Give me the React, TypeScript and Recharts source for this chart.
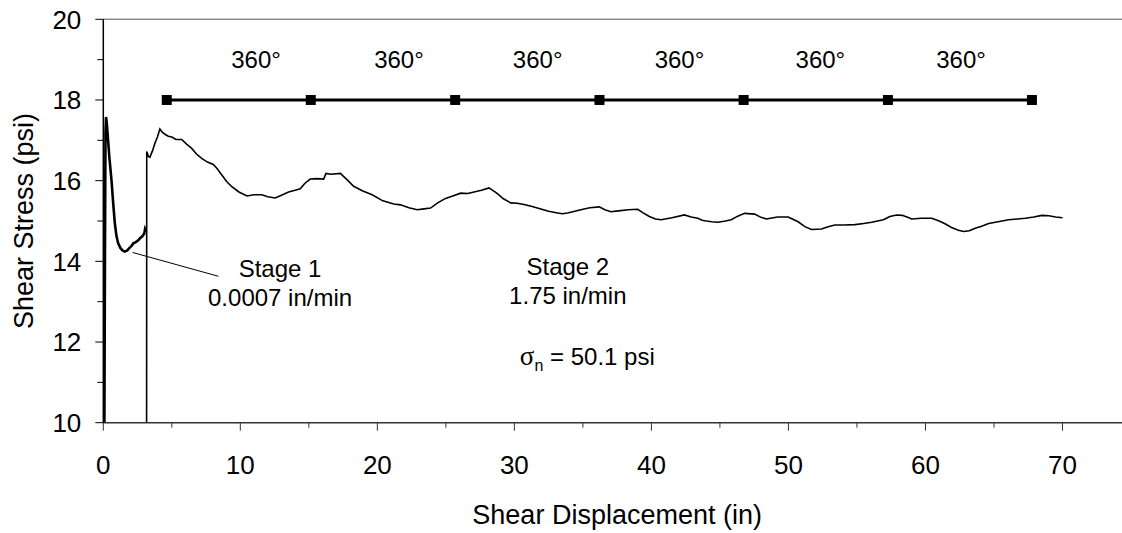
import React from "react"
import { LineChart, Line, XAxis, YAxis, ReferenceLine, ReferenceDot } from "recharts"

// stage 1: slow creep-rate shear
const STAGE1 = [
  { x: 0.08, y: 10 }, { x: 0.12, y: 14.0 }, { x: 0.16, y: 17.2 }, { x: 0.2, y: 17.58 },
  { x: 0.26, y: 17.4 }, { x: 0.35, y: 17.0 }, { x: 0.45, y: 16.55 }, { x: 0.6, y: 16.0 },
  { x: 0.72, y: 15.45 }, { x: 0.84, y: 14.95 }, { x: 0.95, y: 14.65 }, { x: 1.08, y: 14.45 },
  { x: 1.25, y: 14.33 }, { x: 1.4, y: 14.27 }, { x: 1.57, y: 14.24 }, { x: 1.75, y: 14.27 },
  { x: 1.9, y: 14.33 }, { x: 2.06, y: 14.38 }, { x: 2.2, y: 14.45 }, { x: 2.35, y: 14.47 },
  { x: 2.55, y: 14.52 }, { x: 2.7, y: 14.58 }, { x: 2.85, y: 14.62 }, { x: 2.99, y: 14.69 },
  { x: 3.05, y: 14.8 }, { x: 3.1, y: 14.76 },
]

// stage 2: fast ring shear
const STAGE2 = [
  { x: 3.16, y: 10 }, { x: 3.17, y: 16.72 }, { x: 3.3, y: 16.6 }, { x: 3.4, y: 16.58 },
  { x: 3.6, y: 16.75 }, { x: 3.77, y: 16.93 }, { x: 3.95, y: 17.08 }, { x: 4.13, y: 17.28 },
  { x: 4.3, y: 17.2 }, { x: 4.5, y: 17.15 }, { x: 4.74, y: 17.1 }, { x: 5.0, y: 17.08 },
  { x: 5.3, y: 17.02 }, { x: 5.72, y: 17.02 }, { x: 6.1, y: 16.9 }, { x: 6.45, y: 16.8 },
  { x: 6.8, y: 16.66 }, { x: 7.18, y: 16.55 }, { x: 7.6, y: 16.46 }, { x: 8.03, y: 16.4 },
  { x: 8.3, y: 16.3 }, { x: 8.65, y: 16.14 }, { x: 9.0, y: 15.98 }, { x: 9.38, y: 15.85 },
  { x: 9.9, y: 15.72 }, { x: 10.48, y: 15.62 }, { x: 11.0, y: 15.65 }, { x: 11.57, y: 15.65 },
  { x: 12.0, y: 15.6 }, { x: 12.55, y: 15.57 }, { x: 13.0, y: 15.64 }, { x: 13.52, y: 15.72 },
  { x: 14.0, y: 15.76 }, { x: 14.37, y: 15.8 }, { x: 14.7, y: 15.93 }, { x: 15.1, y: 16.04 },
  { x: 15.6, y: 16.05 }, { x: 16.08, y: 16.04 }, { x: 16.25, y: 16.18 }, { x: 16.6, y: 16.16 },
  { x: 17.3, y: 16.18 }, { x: 17.8, y: 16.02 }, { x: 18.27, y: 15.86 }, { x: 18.9, y: 15.75 },
  { x: 19.62, y: 15.65 }, { x: 20.4, y: 15.5 }, { x: 21.2, y: 15.42 }, { x: 21.69, y: 15.4 },
  { x: 22.3, y: 15.33 }, { x: 22.91, y: 15.28 }, { x: 23.4, y: 15.3 }, { x: 23.88, y: 15.32 },
  { x: 24.4, y: 15.45 }, { x: 24.98, y: 15.56 }, { x: 25.5, y: 15.62 }, { x: 26.08, y: 15.69 },
  { x: 26.6, y: 15.68 }, { x: 27.05, y: 15.72 }, { x: 27.6, y: 15.76 }, { x: 28.15, y: 15.82 },
  { x: 28.5, y: 15.74 }, { x: 28.76, y: 15.68 }, { x: 29.2, y: 15.55 }, { x: 29.74, y: 15.45 },
  { x: 30.2, y: 15.44 }, { x: 30.71, y: 15.41 }, { x: 31.3, y: 15.36 }, { x: 31.93, y: 15.3 },
  { x: 32.5, y: 15.24 }, { x: 33.15, y: 15.2 }, { x: 33.5, y: 15.18 }, { x: 33.88, y: 15.2 },
  { x: 34.4, y: 15.24 }, { x: 34.86, y: 15.28 }, { x: 35.5, y: 15.33 }, { x: 36.2, y: 15.35 },
  { x: 36.6, y: 15.28 }, { x: 37.05, y: 15.23 }, { x: 37.6, y: 15.25 }, { x: 38.3, y: 15.28 },
  { x: 39.0, y: 15.29 }, { x: 39.4, y: 15.2 }, { x: 39.85, y: 15.11 }, { x: 40.3, y: 15.05 },
  { x: 40.71, y: 15.03 }, { x: 41.5, y: 15.08 }, { x: 42.41, y: 15.15 }, { x: 42.9, y: 15.1 },
  { x: 43.39, y: 15.07 }, { x: 43.7, y: 15.02 }, { x: 44.0, y: 15.0 }, { x: 44.4, y: 14.98 },
  { x: 44.86, y: 14.97 }, { x: 45.4, y: 15.0 }, { x: 45.83, y: 15.03 }, { x: 46.3, y: 15.12 },
  { x: 46.8, y: 15.19 }, { x: 47.53, y: 15.17 }, { x: 48.0, y: 15.09 }, { x: 48.39, y: 15.05 },
  { x: 49.2, y: 15.1 }, { x: 49.98, y: 15.1 }, { x: 50.4, y: 15.03 }, { x: 50.71, y: 14.98 },
  { x: 51.2, y: 14.86 }, { x: 51.68, y: 14.79 }, { x: 52.41, y: 14.8 }, { x: 52.9, y: 14.86 },
  { x: 53.39, y: 14.9 }, { x: 54.1, y: 14.9 }, { x: 54.85, y: 14.91 }, { x: 55.5, y: 14.94 },
  { x: 56.07, y: 14.97 }, { x: 56.93, y: 15.03 }, { x: 57.4, y: 15.11 }, { x: 57.9, y: 15.15 },
  { x: 58.3, y: 15.14 }, { x: 58.7, y: 15.09 }, { x: 59.0, y: 15.05 }, { x: 59.7, y: 15.07 },
  { x: 60.46, y: 15.07 }, { x: 61.0, y: 15.0 }, { x: 61.43, y: 14.93 }, { x: 61.9, y: 14.84 },
  { x: 62.4, y: 14.77 }, { x: 62.8, y: 14.74 }, { x: 63.2, y: 14.76 }, { x: 63.63, y: 14.82 },
  { x: 64.1, y: 14.87 }, { x: 64.61, y: 14.94 }, { x: 65.3, y: 14.98 }, { x: 66.07, y: 15.03 },
  { x: 66.7, y: 15.05 }, { x: 67.29, y: 15.07 }, { x: 67.9, y: 15.1 }, { x: 68.51, y: 15.14 },
  { x: 69.0, y: 15.13 }, { x: 69.5, y: 15.1 }, { x: 70.0, y: 15.08 },
]

// one marker per full revolution of the ring
const REVOLUTIONS = [4.63, 15.14, 25.68, 36.21, 46.73, 57.26, 67.77]
const REV_LEVEL = 18
const DEG_LABEL_X = [11.15, 21.58, 31.7, 42.05, 52.33, 62.6]
const DEG_LABEL_Y = 18.79

const X_TICKS = [0, 5, 10, 15, 20, 25, 30, 35, 40, 45, 50, 55, 60, 65, 70]
const Y_TICKS = [10, 11, 12, 13, 14, 15, 16, 17, 18, 19, 20]

const STAGE_NOTES = [
  { x: 12.9, y: 13.61, lines: ["Stage 1", "0.0007 in/min"] },
  { x: 33.9, y: 13.66, lines: ["Stage 2", "1.75 in/min"] },
]
const LEADER = [{ x: 2.14, y: 14.22 }, { x: 8.4, y: 13.63 }]
const SIGMA_NOTE = { x: 30.4, y: 11.43, value: "50.1 psi" }

const FONT = "'Liberation Sans', Arial, sans-serif"
const revData = REVOLUTIONS.map((x) => ({ x, y: REV_LEVEL }))

const XTick = (props: any) => {
  const { x, y, payload } = props
  const major = payload.value % 10 === 0
  return (
    <g>
      <line x1={x} x2={x} y1={y} y2={y + (major ? 8 : 5)} stroke="#333" />
      {major && (
        <text x={x} y={y + 51} textAnchor="middle" fontSize={26} fontFamily={FONT} fill="#000">
          {payload.value}
        </text>
      )}
    </g>
  )
}

const YTick = (props: any) => {
  const { x, y, payload } = props
  const major = payload.value % 2 === 0
  return (
    <g>
      <line x1={x} x2={x - (major ? 8 : 6)} y1={y} y2={y} stroke="#000" />
      {major && (
        <text x={x - 22} y={y} dy="0.36em" textAnchor="end" fontSize={26} fontFamily={FONT} fill="#000">
          {payload.value}
        </text>
      )}
    </g>
  )
}

const SquareDot = (props: any) => {
  const { cx, cy } = props
  return <rect x={cx - 5} y={cy - 5} width={10} height={10} fill="#000" />
}

const NoteText = (props: any) => {
  const { viewBox, lines, size } = props
  const cx = viewBox.x + viewBox.width / 2
  return (
    <text x={cx} y={viewBox.y} textAnchor="middle" fontSize={size} fontFamily={FONT} fill="#000">
      {lines.map((l: string, i: number) => (
        <tspan key={i} x={cx} dy={i === 0 ? 0 : 29}>
          {l}
        </tspan>
      ))}
    </text>
  )
}

const SigmaText = (props: any) => {
  const { viewBox } = props
  return (
    <text x={viewBox.x} y={viewBox.y} fontSize={24} fontFamily={FONT} fill="#000">
      <tspan fontFamily="'Liberation Serif', 'Times New Roman', serif" fontSize={27}>σ</tspan>
      <tspan fontSize={16} dy={6}>n</tspan>
      <tspan dy={-6}>{" = " + SIGMA_NOTE.value}</tspan>
    </text>
  )
}

export default function App() {
  return (
    <div
      style={{
        position: "fixed",
        left: 0,
        top: 0,
        width: 1122,
        height: 533,
        overflow: "hidden",
        background: "#fff",
      }}
    >
      <LineChart
        width={1131}
        height={533}
        margin={{ top: 19.3, right: 0, bottom: 0, left: 0 }}
      >
        <XAxis
          type="number"
          dataKey="x"
          domain={[0, 75]}
          ticks={X_TICKS}
          interval={0}
          height={110.3}
          tickSize={0}
          tickMargin={0}
          tickLine={false}
          tick={<XTick />}
          axisLine={{ stroke: "#333", strokeWidth: 1.5 }}
          label={(p: any) => (
            <text
              x={p.viewBox.x + p.viewBox.width / 2}
              y={524}
              textAnchor="middle"
              fontSize={27}
              fontFamily={FONT}
              fill="#000"
            >
              Shear Displacement (in)
            </text>
          )}
        />
        <YAxis
          type="number"
          domain={[10, 20]}
          ticks={Y_TICKS}
          interval={0}
          allowDataOverflow
          width={103.3}
          tickSize={0}
          tickMargin={0}
          tickLine={false}
          tick={<YTick />}
          axisLine={{ stroke: "#000", strokeWidth: 1.5 }}
          label={(p: any) => {
            const cy = p.viewBox.y + p.viewBox.height / 2
            return (
              <text
                x={23.3}
                y={cy}
                dy="0.36em"
                transform={`rotate(-90, 23.3, ${cy})`}
                textAnchor="middle"
                fontSize={27}
                fontFamily={FONT}
                fill="#000"
              >
                Shear Stress (psi)
              </text>
            )
          }}
        />
        <ReferenceLine y={20} stroke="#8c8c8c" strokeWidth={1.5} />
        <ReferenceLine segment={LEADER} stroke="#000" strokeWidth={1} ifOverflow="visible" />
        <Line
          data={STAGE1}
          dataKey="y"
          type="linear"
          stroke="#000"
          strokeWidth={2.6}
          dot={false}
          isAnimationActive={false}
        />
        <Line
          data={STAGE2}
          dataKey="y"
          type="linear"
          stroke="#000"
          strokeWidth={1.6}
          dot={false}
          isAnimationActive={false}
        />
        <Line
          data={revData}
          dataKey="y"
          type="linear"
          stroke="#000"
          strokeWidth={3.2}
          dot={<SquareDot />}
          isAnimationActive={false}
        />
        {DEG_LABEL_X.map((x) => (
          <ReferenceDot
            key={x}
            x={x}
            y={DEG_LABEL_Y}
            r={0}
            fill="none"
            stroke="none"
            label={<NoteText lines={["360°"]} size={24} />}
          />
        ))}
        {STAGE_NOTES.map((n) => (
          <ReferenceDot
            key={n.lines[0]}
            x={n.x}
            y={n.y}
            r={0}
            fill="none"
            stroke="none"
            label={<NoteText lines={n.lines} size={24} />}
          />
        ))}
        <ReferenceDot
          x={SIGMA_NOTE.x}
          y={SIGMA_NOTE.y}
          r={0}
          fill="none"
          stroke="none"
          label={<SigmaText />}
        />
      </LineChart>
    </div>
  )
}
